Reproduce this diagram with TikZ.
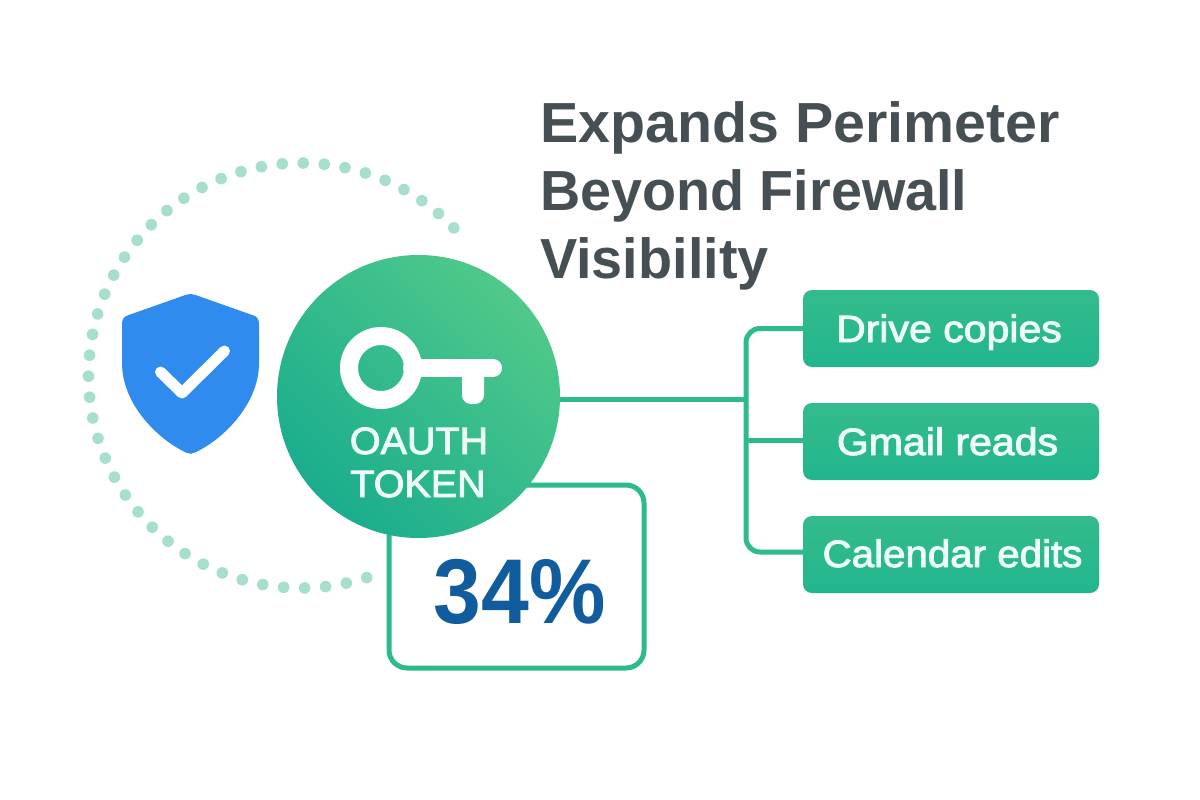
\documentclass[tikz,border=0pt]{standalone}
\usepackage{fontspec}
\setmainfont{Liberation Sans}
\newfontfamily\medfont[FakeBold=2.5,FakeStretch=1.08]{Liberation Sans}
\newfontfamily\tokenfont[FakeBold=2.5,FakeStretch=1.04]{Liberation Sans}
\definecolor{ringdot}{HTML}{A6DFCA}
\definecolor{linegreen}{HTML}{2CBA8E}
\definecolor{boxtop}{HTML}{34BB8C}
\definecolor{boxbot}{HTML}{22B68E}
\definecolor{circlo}{HTML}{1AAD8D}
\definecolor{circhi}{HTML}{50C98A}
\definecolor{shieldblue}{HTML}{2F8BEE}
\definecolor{darktext}{HTML}{454F54}
\definecolor{pctblue}{HTML}{115C9C}
\definecolor{softwhite}{HTML}{EDFCF7}
\tikzset{
  conn/.style={draw=linegreen,line width=5pt},
  chip/.style={rectangle,rounded corners=9pt,minimum width=296pt,minimum height=77pt,inner sep=0pt,
    top color=boxtop,bottom color=boxbot},
  chiptext/.style={anchor=base,inner sep=0pt,text=softwhite,font=\medfont\fontsize{38}{38}\selectfont},
  titleline/.style={anchor=base west,inner sep=0pt,text=darktext,font=\bfseries\fontsize{56.5}{56.5}\selectfont},
  tokentext/.style={anchor=base,inner sep=0pt,text=softwhite,font=\tokenfont\fontsize{38}{38}\selectfont},
  keypart/.style={draw=white,line width=18pt}
}
\begin{document}
\begin{tikzpicture}[x=1pt,y=-1pt]
\useasboundingbox[fill=white] (0,0) rectangle (1200,800);
% dotted ring
\foreach \i in {0,...,43}{
  \fill[ringdot] ({301+212.5*cos(44+\i*244/43)},{375.5-212.5*sin(44+\i*244/43)}) circle[radius=5.8];
}
% shield
\fill[shieldblue] (186,294.8) .. controls (189,293.7) and (192,293.7) .. (195,294.8)
  -- (253,315.3) .. controls (257,316.5) and (259,319.5) .. (259,324)
  -- (259,363) .. controls (259,405) and (222,440) .. (195,452.5)
  .. controls (192,454.2) and (189,454.2) .. (186,452.5)
  .. controls (159,440) and (122,405) .. (122,363)
  -- (122,324) .. controls (122,319.5) and (124,316.5) .. (128,315.3) -- cycle;
\draw[white,line width=11pt,line cap=round,line join=round] (160.5,372) -- (182,393) -- (224.5,351);
% stat box
\node[draw=linegreen,line width=5pt,fill=white,rounded corners=18pt,rectangle,inner sep=0pt,
  minimum width=255pt,minimum height=183pt] (statbox) at (516.5,576.5) {};
\node[anchor=base,inner sep=0pt,text=pctblue,font=\bfseries\fontsize{92}{92}\selectfont] (stat) at (519.5,623) {\scalebox{.934}[1]{34\%}};
% token circle
\node[circle,minimum size=283pt,inner sep=0pt,bottom color=circlo,top color=circhi,shading angle=-45] (token) at (418.5,396.5) {};
\draw[keypart] (381,368) circle[radius=32];
\draw[keypart,line cap=round] (412,368) -- (493,368);
\fill[white,rounded corners=9pt] (462,368) rectangle (484,404);
\node[tokentext] (oauth) at (419,454) {OAUTH};
\node[tokentext] (tokenlabel) at (418,497) {TOKEN};
% title
\node[titleline] (t1) at (540,142) {\scalebox{1.015}[1]{Expands Perimeter}};
\node[titleline] (t2) at (540,210) {\scalebox{.986}[1]{Beyond Firewall}};
\node[titleline] (t3) at (540,278) {\scalebox{.988}[1]{Visibility}};
% chips
\node[chip] (drive) at (951,328.5) {};
\node[chip] (gmail) at (951,441.5) {};
\node[chip] (calendar) at (951,554.5) {};
\node[chiptext] (drivelabel) at (949,342) {Drive copies};
\node[chiptext] (gmaillabel) at (947.5,455) {Gmail reads};
\node[chiptext] (calendarlabel) at (952.5,567) {\scalebox{.982}[1]{Calendar edits}};
% connectors
\coordinate (bus) at (746,399);
\draw[conn] (token.east |- bus) -- (bus);
\draw[conn,rounded corners=14pt] (drive.west) -- (bus |- drive.west) -- ([yshift=2.5pt]bus |- calendar.west) -- ([yshift=2.5pt]calendar.west);
\draw[conn] ([yshift=1.5pt]bus |- gmail.west) -- ([yshift=1.5pt]gmail.west);
\end{tikzpicture}
\end{document}
